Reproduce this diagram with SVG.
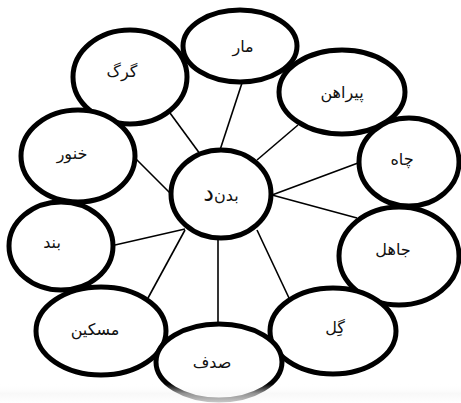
<svg xmlns="http://www.w3.org/2000/svg" width="461" height="403" viewBox="0 0 461 403">
<defs>
<style>
.node ellipse{fill:#fff;stroke:#000;stroke-width:5}
.node text{font-family:"DejaVu Sans","Noto Sans",sans-serif;font-size:16px;fill:#111;text-anchor:middle;direction:rtl}
#connectors line{stroke:#000;stroke-width:1.6}
</style>
<linearGradient id="fade" x1="0" y1="0" x2="0" y2="1">
<stop offset="0" stop-color="#fff" stop-opacity="0"/>
<stop offset="0.5" stop-color="#f4f4f4" stop-opacity="0.6"/>
<stop offset="1" stop-color="#fff" stop-opacity="0.8"/>
</linearGradient>
</defs>
<rect width="461" height="403" fill="#fff"/>
<g id="connectors">
<line x1="203" y1="158" x2="170" y2="113"/>
<line x1="220" y1="150" x2="242" y2="83"/>
<line x1="257" y1="160" x2="298" y2="125"/>
<line x1="272" y1="195" x2="358" y2="163"/>
<line x1="272" y1="195" x2="357" y2="218"/>
<line x1="257" y1="230" x2="289" y2="298"/>
<line x1="218" y1="238" x2="218" y2="324"/>
<line x1="185" y1="230" x2="148" y2="298"/>
<line x1="185" y1="229" x2="115" y2="245"/>
<line x1="170" y1="193" x2="135" y2="158"/>
</g>
<g id="n-mar" class="node"><ellipse cx="240" cy="46" rx="57" ry="36"/><text x="243" y="52">مار</text></g>
<g id="n-gorg" class="node"><ellipse cx="130" cy="77" rx="57" ry="47"/><text x="122" y="77">گرگ</text></g>
<g id="n-pirahan" class="node"><ellipse cx="342" cy="92" rx="63" ry="42"/><text x="342" y="98">پیراهن</text></g>
<g id="n-khonur" class="node"><ellipse cx="78" cy="156" rx="57" ry="46"/><text x="72" y="159">خنور</text></g>
<g id="n-chah" class="node"><ellipse cx="409" cy="162" rx="50" ry="44"/><text x="402" y="165">چاه</text></g>
<g id="n-badan" class="node"><ellipse cx="221" cy="194" rx="50" ry="44"/><text x="221" y="201">بدن‌<tspan font-size="24">د</tspan></text></g>
<g id="n-band" class="node"><ellipse cx="61" cy="246" rx="52" ry="44"/><text x="52" y="248">بند</text></g>
<g id="n-jahel" class="node"><ellipse cx="399" cy="256" rx="60" ry="49"/><text x="393" y="255">جاهل</text></g>
<g id="n-meskin" class="node"><ellipse cx="101" cy="331" rx="65" ry="44"/><text x="95" y="335">مسکین</text></g>
<g id="n-gel" class="node"><ellipse cx="333" cy="331" rx="63" ry="43"/><text x="335" y="333">گِل</text></g>
<g id="n-sadaf" class="node"><ellipse cx="219" cy="362" rx="63" ry="38"/><text x="212" y="368">صدف</text></g>
<rect x="0" y="384" width="461" height="19" fill="url(#fade)"/>
</svg>
